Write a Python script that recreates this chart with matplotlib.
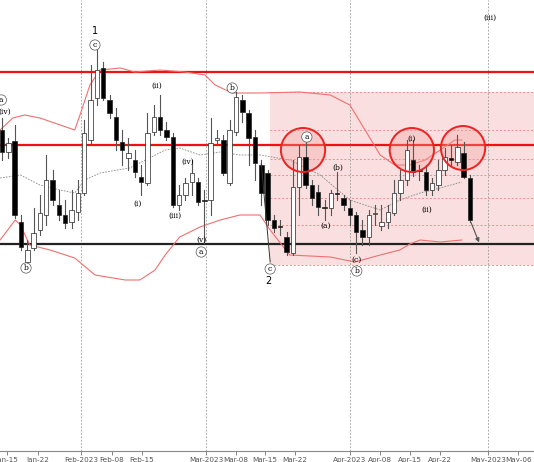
import matplotlib
matplotlib.use("Agg")
import matplotlib.pyplot as plt
from matplotlib.patches import Rectangle, Ellipse

# OHLC per trading day (index 0 = first visible candle)
opens = [332, 310, 321, 240, 200, 214, 232, 247, 282, 257, 247, 240, 250, 269, 322, 364, 394, 362, 345, 320,
         304, 302, 285, 279, 330, 345, 332, 325, 257, 267, 280, 280, 262, 262, 322, 322, 279, 330, 362, 349,
         325, 297, 289, 242, 236, 225, 209, 275, 305, 277, 270, 255, 254, 269, 264, 254, 247, 232, 225, 248,
         236, 240, 249, 269, 282, 302, 292, 290, 272, 277, 292, 304, 300, 309, 284]
highs = [344, 324, 337, 247, 222, 254, 267, 307, 292, 272, 262, 272, 282, 342, 397, 417, 400, 367, 354, 332,
         324, 312, 297, 349, 357, 367, 340, 329, 277, 284, 302, 284, 272, 344, 332, 327, 342, 370, 367, 352,
         332, 302, 292, 247, 242, 230, 302, 317, 322, 282, 277, 262, 272, 290, 267, 262, 250, 242, 252, 257,
         257, 257, 282, 292, 322, 322, 297, 297, 284, 302, 314, 317, 327, 320, 287]
lows = [302, 304, 244, 212, 197, 212, 227, 237, 257, 242, 234, 234, 242, 267, 317, 357, 362, 344, 312, 297,
        292, 285, 267, 277, 327, 327, 322, 255, 252, 262, 267, 257, 219, 247, 317, 287, 277, 327, 340, 297,
        282, 257, 237, 230, 227, 207, 207, 247, 274, 257, 247, 242, 247, 262, 252, 237, 209, 217, 217, 237,
        232, 234, 247, 262, 277, 286, 282, 267, 267, 272, 287, 297, 297, 284, 240]
closes = [310, 319, 247, 215, 212, 229, 249, 282, 262, 247, 239, 252, 269, 329, 362, 392, 364, 349, 322, 312,
          309, 290, 280, 329, 345, 332, 325, 257, 267, 279, 289, 260, 261, 319, 324, 289, 332, 365, 350, 324,
          299, 269, 242, 234, 235, 210, 275, 305, 277, 264, 255, 254, 269, 268, 257, 247, 230, 225, 247, 249,
          240, 250, 269, 282, 312, 290, 291, 272, 279, 292, 305, 302, 315, 285, 242]

# Bollinger band readings (trading-day index, level)
upper_x = [-0.3, 1.7, 3.6, 6.0, 9.2, 11.5, 12.6, 13.9, 15.5, 18.7, 21.0, 25.0, 28.9, 32.1, 33.7, 36.4,
           40.8, 47.1, 51.9, 55.0, 57.4, 59.8, 62.1, 64.5, 66.9, 69.3, 71.6, 72.7]
upper_y = [332, 344, 347, 344, 337, 332, 352, 377, 392, 394, 390, 392, 390, 387, 377, 369,
           369, 370, 367, 357, 332, 307, 297, 297, 302, 312, 322, 322]
lower_x = [-0.3, 2.1, 2.9, 4.4, 7.6, 11.5, 14.7, 19.5, 21.8, 24.2, 25.8, 28.1, 31.3, 34.5, 37.6,
           40.8, 42.4, 45.5, 51.9, 55.8, 59.8, 62.9, 64.5, 66.1, 69.3, 72.7]
lower_y = [222, 242, 237, 217, 212, 204, 187, 182, 182, 192, 207, 225, 235, 242, 247,
           247, 232, 207, 205, 200, 207, 212, 218, 222, 220, 222]
mid_x = [-0.3, 2.9, 6.0, 9.2, 11.5, 13.1, 15.5, 20.2, 25.8, 28.1, 31.3, 34.5, 37.6, 40.8, 45.5,
         50.3, 55.0, 59.8, 62.9, 66.1, 69.3, 72.7]
mid_y = [284, 287, 277, 272, 269, 282, 289, 294, 312, 314, 307, 310, 307, 307, 302,
         287, 262, 252, 262, 269, 274, 280]

tick_pos = [0.8, 5.7, 12.5, 17.4, 22.1, 32.3, 37.0, 41.6, 46.3, 55.0, 59.8, 64.5, 69.3, 76.8, 81.6]
tick_labels = ["Jan-15", "Jan-22", "Feb-2023", "Feb-08", "Feb-15", "Mar-2023", "Mar-08", "Mar-15",
               "Mar-22", "Apr-2023", "Apr-08", "Apr-15", "Apr-22", "May-2023", "May-06"]
month_starts = [12.5, 32.3, 55.0, 76.8]

red_levels = [390, 317]
black_level = 218
zone_levels = [370, 332, 303, 287, 264, 237, 197]

# (x, y, text, circled)
wave_labels = [
    (-0.1, 362, "a", True), (0.5, 350, "(iv)", False), (3.8, 194, "b", True),
    (14.7, 417, "c", True), (24.5, 376, "(ii)", False), (21.5, 258, "(i)", False),
    (27.4, 246, "(iii)", False), (29.3, 300, "(iv)", False), (31.5, 222, "(v)", False),
    (31.5, 210, "a", True), (36.4, 374, "b", True), (42.4, 193, "c", True),
    (48.2, 325, "a", True), (53.1, 294, "(b)", False), (51.1, 236, "(a)", False),
    (56.1, 202, "(c)", False), (56.1, 191, "b", True), (64.8, 323, "(i)", False),
    (67.2, 252, "(ii)", False), (77.2, 444, "(iii)", False),
]
circle_centres = [(47.6, 312), (64.8, 312), (72.9, 314)]

fig = plt.figure(figsize=(5.34, 4.62), dpi=100)
ax = fig.add_axes([0, 11 / 462, 1, 451 / 462])
ax.set_xlim(-0.316, 84.12)
ax.set_ylim(11, 462)

# pink target zone
ax.add_patch(Rectangle((42.4, 197), 50, 173, facecolor="#f8d8d8", edgecolor="none", alpha=0.8, zorder=0))
for lv in zone_levels:
    ax.plot([42.4, 85], [lv, lv], color="#e89090", lw=0.7, ls=(0, (2, 2)), zorder=1)

for m in month_starts:
    ax.axvline(m, color="#999999", lw=0.6, ls=(0, (2, 2)), zorder=1)

for lv in red_levels:
    ax.axhline(lv, color="#ee1111", lw=1.6, zorder=2)
ax.axhline(black_level, color="#222222", lw=1.6, zorder=2)

ax.plot(upper_x, upper_y, color="#f07070", lw=0.8, zorder=2)
ax.plot(lower_x, lower_y, color="#f07070", lw=0.8, zorder=2)
ax.plot(mid_x, mid_y, color="#888888", lw=0.6, ls=(0, (2, 1.5)), zorder=2)

for cx, cy in circle_centres:
    ax.add_patch(Ellipse((cx, cy), 7.0, 44, facecolor="#f4a0a0", alpha=0.35, edgecolor="none", zorder=3))
    ax.add_patch(Ellipse((cx, cy), 7.0, 44, facecolor="none", edgecolor="#ee2222", lw=1.4, zorder=6))

w = 0.7
for i, (o, h, l, c) in enumerate(zip(opens, highs, lows, closes)):
    ax.plot([i, i], [l, h], color="#555555", lw=0.8, zorder=4)
    lo, hi = min(o, c), max(o, c)
    fc = "white" if c > o else "black"
    ax.add_patch(Rectangle((i - w / 2, lo), w, max(hi - lo, 1), facecolor=fc, edgecolor="#222222",
                           lw=0.5, zorder=5))

# wave lines / arrow
ax.plot([41, 42.4], [298, 200], color="#333333", lw=0.7, zorder=5)
ax.annotate("", xy=(75.6, 217), xytext=(74, 242),
            arrowprops=dict(arrowstyle="-|>", color="#555555", lw=0.8, mutation_scale=6), zorder=6)

for x, y, t, circ in wave_labels:
    if circ:
        ax.text(x, y, t, fontsize=5.5, family="DejaVu Serif", ha="center", va="center", zorder=7,
                bbox=dict(boxstyle="circle,pad=0.15", fc="white", ec="#555555", lw=0.5))
    else:
        ax.text(x, y, t, fontsize=5.5, family="DejaVu Serif", ha="center", va="center", zorder=7)
ax.text(14.7, 431, "1", fontsize=7, ha="center", va="center")
ax.text(42.1, 181, "2", fontsize=7, ha="center", va="center")

ax.set_yticks([])
ax.set_xticks(tick_pos)
ax.set_xticklabels(tick_labels, fontsize=5.2, color="#333333")
ax.tick_params(axis="x", length=3, width=0.5, pad=1, colors="#555555")
for s in ["top", "left", "right"]:
    ax.spines[s].set_visible(False)
ax.spines["bottom"].set_color("#888888")

fig.savefig("out.png", dpi=100)
